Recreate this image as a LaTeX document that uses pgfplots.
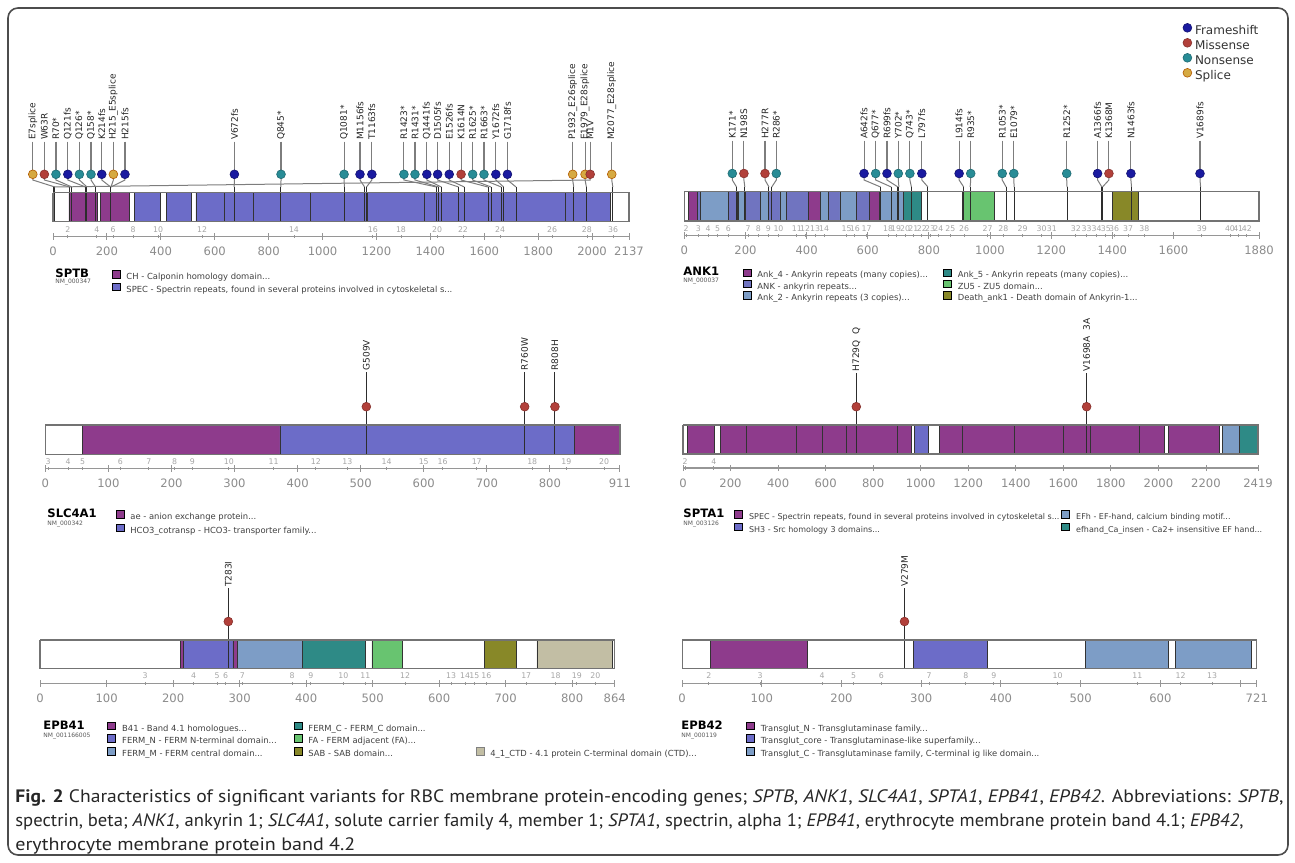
\documentclass[border=0pt]{standalone}
\usepackage{pgfplots}
\pgfplotsset{compat=1.18}
\usepackage{fontspec}
\usepackage{graphicx}
\setmainfont{DejaVu Sans}
\newfontfamily\capfont{PT Sans}

\definecolor{cPurple}{RGB}{142,59,140}
\definecolor{cBlue}{RGB}{108,108,200}
\definecolor{cLight}{RGB}{125,157,198}
\definecolor{cAnk}{RGB}{112,116,192}
\definecolor{cTeal}{RGB}{46,138,134}
\definecolor{cGreen}{RGB}{104,196,112}
\definecolor{cOlive}{RGB}{136,136,40}
\definecolor{cBeige}{RGB}{194,190,164}
\definecolor{FS}{RGB}{26,26,160}
\definecolor{MS}{RGB}{178,64,58}
\definecolor{NS}{RGB}{40,140,150}
\definecolor{SP}{RGB}{214,170,66}
\definecolor{axgray}{RGB}{150,150,150}
\definecolor{ticklab}{RGB}{140,140,140}
\definecolor{exgray}{RGB}{165,165,165}
\definecolor{stemgray}{RGB}{125,125,125}
\definecolor{vdark}{RGB}{45,45,45}
\definecolor{bargray}{RGB}{115,115,115}

\newcommand\labfont{\fontsize{4.5}{5}\selectfont}
\newcommand\exfont{\fontsize{3.9}{4.5}\selectfont}
\newcommand\tickfont{\fontsize{5.8}{6.5}\selectfont}
\newcommand\genefont{\bfseries\fontsize{5.8}{6.5}\selectfont}
\newcommand\nmfont{\fontsize{3}{3.5}\selectfont}
\newcommand\legfont{\fontsize{4.2}{5}\selectfont}

\pgfplotsset{
 fs/.style={only marks, mark=*, mark size=2.2pt, mark options={fill=FS, draw=FS!70!black, line width=0.3pt}},
 ms/.style={only marks, mark=*, mark size=2.2pt, mark options={fill=MS, draw=MS!75!black, line width=0.3pt}},
 ns/.style={only marks, mark=*, mark size=2.2pt, mark options={fill=NS, draw=NS!75!black, line width=0.3pt}},
 sp/.style={only marks, mark=*, mark size=2.2pt, mark options={fill=SP, draw=orange!70!black, line width=0.3pt}},
 panel/.style={
  scale only axis, clip=false, anchor=south west, enlargelimits=false,
  axis x line*=bottom, axis y line=none, ytick=\empty,
  x axis line style={draw=axgray, line width=0.55pt},
  tick align=center, major tick length=3.2pt, minor tick length=1.6pt,
  every tick/.style={draw=axgray, line width=0.45pt},
  scaled x ticks=false,
  xticklabel style={font=\tickfont, text=ticklab, inner sep=0pt, anchor=north, yshift=-3.6pt},
  legend style={anchor=north west, draw=none, fill=none, inner sep=0pt, outer sep=0pt,
    font=\legfont, text=black!75, row sep=0.7pt, column sep=0pt,
    nodes={inner sep=0pt, text height=3.1pt, text depth=0.9pt},
    /tikz/every odd column/.append style={column sep=3pt}},
  legend cell align=left,
  legend image code/.code={\fill[##1] (0pt,-0.4pt) rectangle (4pt,3.4pt);},
 }
}

\newcommand\barbox[1]{\addplot[forget plot, fill=white, draw=bargray, line width=0.6pt] coordinates {(0,\yT) (#1,\yT) (#1,\yBot) (0,\yBot) (0,\yT)};}
\newcommand\dom[3]{\addplot[forget plot, fill=#3, draw=black!80, line width=0.35pt] coordinates {(#1,\yT) (#2,\yT) (#2,\yBot) (#1,\yBot) (#1,\yT)};}
\newcommand\variant[4]{%
 \addplot[forget plot, draw=\stemcol, line width=0.55pt] coordinates {(#1,\yL) (#1,\yD)};
 \addplot[forget plot, draw=stemgray, line width=0.5pt] coordinates {(#1,\yD) (#1,\yA) (#2,\yB)};
 \addplot[forget plot, draw=vdark, line width=0.5pt] coordinates {(#2,\yB) (#2,\yBot)};
 \addplot[forget plot, #3] coordinates {(#1,\yD)};
 \node[rotate=90, anchor=west, inner sep=0.6pt, font=\labfont, text=black!85] at (axis cs:#1,\yL) {#4};
}
\newcommand\exons[1]{\addplot[forget plot, draw=none, mark=none, nodes near coords, point meta=explicit symbolic,
  nodes near coords style={anchor=center, font=\exfont, text=exgray, inner sep=0pt}] table[row sep=\\, x=x, y expr=\yE, meta=l] {#1};}

\begin{document}
\begin{tikzpicture}
\path[use as bounding box] (0,0) rectangle (647.5pt,-431pt);

% ================= SPTB =================
\def\yL{-141.5}\def\yD{-174.3}\def\yA{-180}\def\yB{-187}\def\yT{-192.7}\def\yBot{-221.7}\def\yE{-229.5}\def\stemcol{stemgray}
\begin{axis}[panel, at={(26.5pt,-118.25pt)}, width=288pt, height=88.25pt,
  xmin=0, xmax=2137, ymin=-236.5, ymax=-60,
  xtick={0,200,400,600,800,1000,1200,1400,1600,1800,2000,2137},
  xticklabels={0,200,400,600,800,1000,1200,1400,1600,1800,2000,2137},
  minor xtick={55,163,223,297,390,553,894,1187,1291,1425,1521,1659,1852,1981,2078},
  legend style={at={(0.1019,-0.1904)}, row sep=0.7pt}]
 \addlegendimage{fill=cPurple}\addlegendentry{CH - Calponin homology domain...}
 \addlegendimage{fill=cBlue}\addlegendentry{SPEC - Spectrin repeats, found in several proteins involved in cytoskeletal s...}
 \barbox{2137}
 \dom{59}{164}{cPurple}\dom{177}{283}{cPurple}
 \dom{301}{400}{cBlue}\dom{421}{513}{cBlue}\dom{530}{637}{cBlue}\dom{637}{745}{cBlue}
 \dom{745}{955}{cBlue}\dom{955}{1166}{cBlue}\dom{1166}{1378}{cBlue}\dom{1378}{1900}{cBlue}\dom{1900}{2067}{cBlue}
 \variant{-75}{7}{sp}{E7splice}
 \variant{-32}{63}{ms}{W63R}
 \variant{11}{70}{ns}{R70*}
 \variant{55}{121}{fs}{Q121fs}
 \variant{98}{126}{ns}{Q126*}
 \variant{141}{158}{ns}{Q158*}
 \variant{181}{214}{fs}{K214fs}
 \variant{224}{215}{sp}{H215\_E5splice}
 \variant{267}{215}{fs}{H215fs}
 \variant{673}{672}{fs}{V672fs}
 \variant{846}{845}{ns}{Q845*}
 \variant{1080}{1081}{ns}{Q1081*}
 \variant{1139}{1156}{fs}{M1156fs}
 \variant{1183}{1163}{fs}{T1163fs}
 \variant{1302}{1423}{ns}{R1423*}
 \variant{1343}{1431}{ns}{R1431*}
 \variant{1387}{1441}{fs}{Q1441fs}
 \variant{1427}{1505}{fs}{D1505fs}
 \variant{1470}{1526}{fs}{E1526fs}
 \variant{1514}{1614}{ms}{K1614N}
 \variant{1557}{1625}{ns}{R1625*}
 \variant{1599}{1663}{ns}{R1663*}
 \variant{1643}{1672}{fs}{Y1672fs}
 \variant{1686}{1718}{fs}{G1718fs}
 \variant{1928}{1932}{sp}{P1932\_E26splice}
 \variant{1974}{1979}{sp}{E1979\_E28splice}
 \variant{1993}{1}{ms}{M1V}
 \variant{2073}{2077}{sp}{M2077\_E28splice}
 \addplot[forget plot, draw=bargray, line width=0.6pt] coordinates {(0,\yT) (2137,\yT) (2137,\yBot) (0,\yBot) (0,\yT)};
 \exons{x l\\ 55 2\\ 163 4\\ 223 6\\ 297 8\\ 390 10\\ 553 12\\ 894 14\\ 1187 16\\ 1291 18\\ 1425 20\\ 1521 22\\ 1659 24\\ 1852 26\\ 1981 28\\ 2078 36\\}
\end{axis}

% ================= ANK1 =================
\def\yL{-140.5}\def\yD{-173.5}\def\yA{-180}\def\yB{-187}\def\yT{-191.5}\def\yBot{-221}\def\yE{-228.5}\def\stemcol{stemgray}
\begin{axis}[panel, at={(342.15pt,-117.75pt)}, width=287.35pt, height=87.75pt,
  xmin=0, xmax=1880, ymin=-235.5, ymax=-60,
  xtick={0,200,400,600,800,1000,1200,1400,1600,1880},
  xticklabels={0,200,400,600,800,1000,1200,1400,1600,1880},
  minor xtick={6,46,78,109,144,209,242,275,308,368,395,428,457,531,558,596,667,693,722,749,777,804,831,870,915,992,1044,1107,1169,1202,1281,1316,1349,1379,1406,1452,1505,1693,1785,1812,1840},
  legend columns=2,
  legend style={at={(0.1016,-0.188)}, row sep=0pt, /tikz/every even column/.append style={column sep=7.5pt}}]
 \addlegendimage{fill=cPurple}\addlegendentry{Ank\_4 - Ankyrin repeats (many copies)...}
 \addlegendimage{fill=cTeal}\addlegendentry{Ank\_5 - Ankyrin repeats (many copies)...}
 \addlegendimage{fill=cAnk}\addlegendentry{ANK - ankyrin repeats...}
 \addlegendimage{fill=cGreen}\addlegendentry{ZU5 - ZU5 domain...}
 \addlegendimage{fill=cLight}\addlegendentry{Ank\_2 - Ankyrin repeats (3 copies)...}
 \addlegendimage{fill=cOlive}\addlegendentry{Death\_ank1 - Death domain of Ankyrin-1...}
 \barbox{1880}
 \dom{13}{43}{cPurple}\dom{406}{444}{cPurple}\dom{605}{638}{cPurple}
 \dom{43}{54}{cAnk}\dom{144}{172}{cAnk}\dom{199}{248}{cAnk}\dom{275}{313}{cAnk}\dom{333}{406}{cAnk}\dom{471}{509}{cAnk}\dom{564}{605}{cAnk}
 \dom{54}{144}{cLight}\dom{178}{199}{cLight}\dom{248}{275}{cLight}\dom{313}{333}{cLight}\dom{444}{471}{cLight}\dom{509}{564}{cLight}\dom{638}{716}{cLight}
 \dom{716}{777}{cTeal}
 \dom{911}{1015}{cGreen}
 \dom{1400}{1485}{cOlive}
 \variant{157}{171}{ns}{K171*}
 \variant{195}{198}{ms}{N198S}
 \variant{264}{277}{ms}{H277R}
 \variant{301}{286}{ns}{R286*}
 \variant{588}{642}{fs}{A642fs}
 \variant{626}{677}{ns}{Q677*}
 \variant{663}{699}{fs}{R699fs}
 \variant{700}{702}{ns}{Y702*}
 \variant{738}{743}{ns}{Q743*}
 \variant{777}{797}{fs}{L797fs}
 \variant{899}{914}{fs}{L914fs}
 \variant{937}{935}{ns}{R935*}
 \variant{1040}{1053}{ns}{R1053*}
 \variant{1078}{1079}{ns}{E1079*}
 \variant{1251}{1252}{ns}{R1252*}
 \variant{1352}{1366}{fs}{A1366fs}
 \variant{1389}{1368}{ms}{K1368M}
 \variant{1461}{1463}{fs}{N1463fs}
 \variant{1687}{1689}{fs}{V1689fs}
 \addplot[forget plot, draw=bargray, line width=0.6pt] coordinates {(0,\yT) (1880,\yT) (1880,\yBot) (0,\yBot) (0,\yT)};
 \exons{x l\\ 6 2\\ 46 3\\ 78 4\\ 109 5\\ 144 6\\ 209 7\\ 242 8\\ 275 9\\ 308 10\\ 368 11\\ 395 12\\ 428 13\\ 457 14\\ 531 15\\ 558 16\\ 596 17\\ 667 18\\ 693 19\\ 722 20\\ 749 21\\ 777 22\\ 804 23\\ 831 24\\ 870 25\\ 915 26\\ 992 27\\ 1044 28\\ 1107 29\\ 1169 30\\ 1202 31\\ 1281 32\\ 1316 33\\ 1349 34\\ 1379 35\\ 1406 36\\ 1452 37\\ 1505 38\\ 1693 39\\ 1785 40\\ 1812 41\\ 1840 42\\}
\end{axis}

% ================= SLC4A1 =================
\def\yL{-372}\def\yD{-406.7}\def\yA{-406.7}\def\yB{-406.7}\def\yT{-425}\def\yBot{-454.5}\def\yE{-461.7}\def\stemcol{vdark}
\begin{axis}[panel, at={(22.65pt,-234.15pt)}, width=287.3pt, height=64.15pt,
  xmin=0, xmax=911, ymin=-468.3, ymax=-340,
  xtick={0,100,200,300,400,500,600,700,800,911},
  xticklabels={0,100,200,300,400,500,600,700,800,911},
  minor xtick={4.5,36,59,119,164,205,233,291,362,429,479,541,600,630,684,772,826,886},
  legend style={at={(0.1223,-0.3258)}, row sep=1.2pt}]
 \addlegendimage{fill=cPurple}\addlegendentry{ae - anion exchange protein...}
 \addlegendimage{fill=cBlue}\addlegendentry{HCO3\_cotransp - HCO3- transporter family...}
 \barbox{911}
 \dom{59}{372}{cPurple}\dom{372}{839}{cBlue}\dom{839}{911}{cPurple}
 \variant{509}{509}{ms}{G509V}
 \variant{760}{760}{ms}{R760W}
 \variant{808}{808}{ms}{R808H}
 \addplot[forget plot, draw=bargray, line width=0.6pt] coordinates {(0,\yT) (911,\yT) (911,\yBot) (0,\yBot) (0,\yT)};
 \exons{x l\\ 4.5 3\\ 36 4\\ 59 5\\ 119 6\\ 164 7\\ 205 8\\ 233 9\\ 291 10\\ 362 11\\ 429 12\\ 479 13\\ 541 14\\ 600 15\\ 630 16\\ 684 17\\ 772 18\\ 826 19\\ 886 20\\}
\end{axis}

% ================= SPTA1 =================
\def\yL{-373}\def\yD{-406.7}\def\yA{-406.7}\def\yB{-406.7}\def\yT{-425}\def\yBot{-454}\def\yE{-461.5}\def\stemcol{vdark}
\begin{axis}[panel, at={(341.5pt,-234pt)}, width=287.5pt, height=64pt,
  xmin=0, xmax=2419, ymin=-468, ymax=-340,
  xtick={0,200,400,600,800,1000,1200,1400,1600,1800,2000,2200,2419},
  xticklabels={0,200,400,600,800,1000,1200,1400,1600,1800,2000,2200,2419},
  minor xtick={9,130},
  legend columns=2,
  legend style={at={(0.0892,-0.3289)}, row sep=0.7pt, font=\fontsize{4}{5}\selectfont, /tikz/every even column/.append style={column sep=1pt}}]
 \addlegendimage{fill=cPurple}\addlegendentry{SPEC - Spectrin repeats, found in several proteins involved in cytoskeletal s...}
 \addlegendimage{fill=cLight}\addlegendentry{EFh - EF-hand, calcium binding motif...}
 \addlegendimage{fill=cBlue}\addlegendentry{SH3 - Src homology 3 domains...}
 \addlegendimage{fill=cTeal}\addlegendentry{efhand\_Ca\_insen - Ca2+ insensitive EF hand...}
 \barbox{2419}
 \dom{17}{133}{cPurple}\dom{156}{268}{cPurple}\dom{268}{476}{cPurple}\dom{476}{588}{cPurple}\dom{588}{689}{cPurple}\dom{689}{900}{cPurple}\dom{900}{960}{cPurple}
 \dom{974}{1033}{cBlue}
 \dom{1078}{1177}{cPurple}\dom{1177}{1393}{cPurple}\dom{1393}{1601}{cPurple}\dom{1601}{1713}{cPurple}\dom{1713}{1921}{cPurple}\dom{1921}{2025}{cPurple}\dom{2042}{2258}{cPurple}
 \dom{2270}{2339}{cLight}\dom{2339}{2419}{cTeal}
 \variant{729}{729}{ms}{H729Q\kern3pt Q}
 \variant{1698}{1698}{ms}{V1698A\kern3pt 3A}
 \addplot[forget plot, draw=bargray, line width=0.6pt] coordinates {(0,\yT) (2419,\yT) (2419,\yBot) (0,\yBot) (0,\yT)};
 \exons{x l\\ 9 2\\ 130 4\\}
\end{axis}

% ================= EPB41 =================
\def\yL{-588.3}\def\yD{-621.5}\def\yA{-621.5}\def\yB{-621.5}\def\yT{-640}\def\yBot{-668.7}\def\yE{-675.7}\def\stemcol{vdark}
\begin{axis}[panel, at={(20.05pt,-341.65pt)}, width=287.3pt, height=64.15pt,
  xmin=0, xmax=864, ymin=-683.3, ymax=-555,
  xtick={0,100,200,300,400,500,600,700,800,864},
  xticklabels={0,100,200,300,400,500,600,700,800,864},
  minor xtick={158,231,266,279,304,379,407,456,489,549,618,639,653,671,731,775,807,835},
  legend columns=3,
  legend style={at={(0.1171,-0.3001)}, row sep=0.7pt, /tikz/column 2/.append style={column sep=8.5pt}, /tikz/column 4/.append style={column sep=25pt}}]
 \addlegendimage{fill=cPurple}\addlegendentry{B41 - Band 4.1 homologues...}
 \addlegendimage{fill=cTeal}\addlegendentry{FERM\_C - FERM\_C domain...}
 \addlegendimage{empty legend}\addlegendentry{}
 \addlegendimage{fill=cBlue}\addlegendentry{FERM\_N - FERM N-terminal domain...}
 \addlegendimage{fill=cGreen}\addlegendentry{FA - FERM adjacent (FA)...}
 \addlegendimage{empty legend}\addlegendentry{}
 \addlegendimage{fill=cLight}\addlegendentry{FERM\_M - FERM central domain...}
 \addlegendimage{fill=cOlive}\addlegendentry{SAB - SAB domain...}
 \addlegendimage{fill=cBeige, draw=black!50}\addlegendentry{4\_1\_CTD - 4.1 protein C-terminal domain (CTD)...}
 \barbox{864}
 \dom{211}{216}{cPurple}\dom{216}{290}{cBlue}\dom{290}{297}{cPurple}
 \dom{297}{395}{cLight}\dom{395}{489}{cTeal}\dom{499}{544}{cGreen}
 \dom{668}{716}{cOlive}\dom{747}{861}{cBeige}
 \variant{283}{283}{ms}{T283I}
 \addplot[forget plot, draw=bargray, line width=0.6pt] coordinates {(0,\yT) (864,\yT) (864,\yBot) (0,\yBot) (0,\yT)};
 \exons{x l\\ 158 3\\ 231 4\\ 266 5\\ 279 6\\ 304 7\\ 379 8\\ 407 9\\ 456 10\\ 489 11\\ 549 12\\ 618 13\\ 639 14\\ 653 15\\ 671 16\\ 731 17\\ 775 18\\ 807 19\\ 835 20\\}
\end{axis}

% ================= EPB42 =================
\def\yL{-588.3}\def\yD{-621.5}\def\yA{-621.5}\def\yB{-621.5}\def\yT{-640}\def\yBot{-668.7}\def\yE{-675.7}\def\stemcol{vdark}
\begin{axis}[panel, at={(341.05pt,-341.65pt)}, width=287.35pt, height=64.15pt,
  xmin=0, xmax=721, ymin=-683.3, ymax=-555,
  xtick={0,100,200,300,400,500,600,700,721},
  xticklabels={0,100,200,300,400,500,600,,721},
  minor xtick={33.5,98,175.5,215,250,310,356,391,471,571,625.5,665},
  legend style={at={(0.1112,-0.3001)}, row sep=0.7pt}]
 \addlegendimage{fill=cPurple}\addlegendentry{Transglut\_N - Transglutaminase family...}
 \addlegendimage{fill=cBlue}\addlegendentry{Transglut\_core - Transglutaminase-like superfamily...}
 \addlegendimage{fill=cLight}\addlegendentry{Transglut\_C - Transglutaminase family, C-terminal ig like domain...}
 \barbox{721}
 \dom{36}{157}{cPurple}\dom{290}{383}{cBlue}\dom{506}{610}{cLight}\dom{619}{714}{cLight}
 \variant{279}{279}{ms}{V279M}
 \addplot[forget plot, draw=bargray, line width=0.6pt] coordinates {(0,\yT) (721,\yT) (721,\yBot) (0,\yBot) (0,\yT)};
 \exons{x l\\ 33.5 2\\ 98 3\\ 175.5 4\\ 215 5\\ 250 6\\ 310 7\\ 356 8\\ 391 9\\ 471 10\\ 571 11\\ 625.5 12\\ 665 13\\}
\end{axis}

% ================= variant type legend =================
\begin{axis}[at={(591.5pt,-11.7pt)}, anchor=north west, hide axis, scale only axis, width=10pt, height=10pt,
  xmin=0, xmax=1, ymin=0, ymax=1,
  legend style={at={(0,1)}, anchor=north west, draw=none, fill=none, inner sep=0pt, outer sep=0pt,
    font=\fontsize{6}{7}\selectfont, text=black!80, row sep=0.9pt, column sep=0pt,
    nodes={inner sep=0pt, text height=4.4pt, text depth=1.2pt},
    /tikz/every odd column/.append style={column sep=1.6pt}},
  legend cell align=left,
  legend image code/.code={\draw[#1] plot coordinates {(2.2pt,1.6pt)};}]
 \addlegendimage{fs}\addlegendentry{Frameshift}
 \addlegendimage{ms}\addlegendentry{Missense}
 \addlegendimage{ns}\addlegendentry{Nonsense}
 \addlegendimage{sp}\addlegendentry{Splice}
\end{axis}

% ================= texts, frame, caption =================
\begin{scope}[x=0.5pt, y=-0.5pt]
 \draw[rounded corners=5pt, line width=0.8pt, black!70] (8,8) rectangle (1288,855);
 \node[anchor=west, inner sep=0pt, font=\genefont] at (55,273) {SPTB};
 \node[anchor=west, inner sep=0pt, font=\nmfont, text=black!65] at (55,282) {NM\_000347};
 \node[anchor=west, inner sep=0pt, font=\genefont] at (683,271) {ANK1};
 \node[anchor=west, inner sep=0pt, font=\nmfont, text=black!65] at (683,281) {NM\_000037};
 \node[anchor=west, inner sep=0pt, font=\genefont] at (47,513) {SLC4A1};
 \node[anchor=west, inner sep=0pt, font=\nmfont, text=black!65] at (47,524) {NM\_000342};
 \node[anchor=west, inner sep=0pt, font=\genefont] at (683,513) {SPTA1};
 \node[anchor=west, inner sep=0pt, font=\nmfont, text=black!65] at (683,524) {NM\_003126};
 \node[anchor=west, inner sep=0pt, font=\genefont] at (43,725) {EPB41};
 \node[anchor=west, inner sep=0pt, font=\nmfont, text=black!65] at (43,736) {NM\_001166005};
 \node[anchor=west, inner sep=0pt, font=\genefont] at (681,725) {EPB42};
 \node[anchor=west, inner sep=0pt, font=\nmfont, text=black!65] at (681,736) {NM\_000119};
 \node[anchor=west, inner sep=0pt, font=\capfont\fontsize{9}{10}\selectfont, text=black!85] at (15,798)
  {\resizebox{634pt}{\height}{\textbf{Fig. 2} Characteristics of significant variants for RBC membrane protein-encoding genes; \textit{SPTB}, \textit{ANK1}, \textit{SLC4A1}, \textit{SPTA1}, \textit{EPB41}, \textit{EPB42}. Abbreviations: \textit{SPTB},}};
 \node[anchor=west, inner sep=0pt, font=\capfont\fontsize{9}{10}\selectfont, text=black!85] at (15,822)
  {\resizebox{614pt}{\height}{spectrin, beta; \textit{ANK1}, ankyrin 1; \textit{SLC4A1}, solute carrier family 4, member 1; \textit{SPTA1}, spectrin, alpha 1; \textit{EPB41}, erythrocyte membrane protein band 4.1; \textit{EPB42},}};
 \node[anchor=west, inner sep=0pt, font=\capfont\fontsize{9}{10}\selectfont, text=black!85] at (15,846)
  {\resizebox{170pt}{\height}{erythrocyte membrane protein band 4.2}};
\end{scope}
\end{tikzpicture}
\end{document}
